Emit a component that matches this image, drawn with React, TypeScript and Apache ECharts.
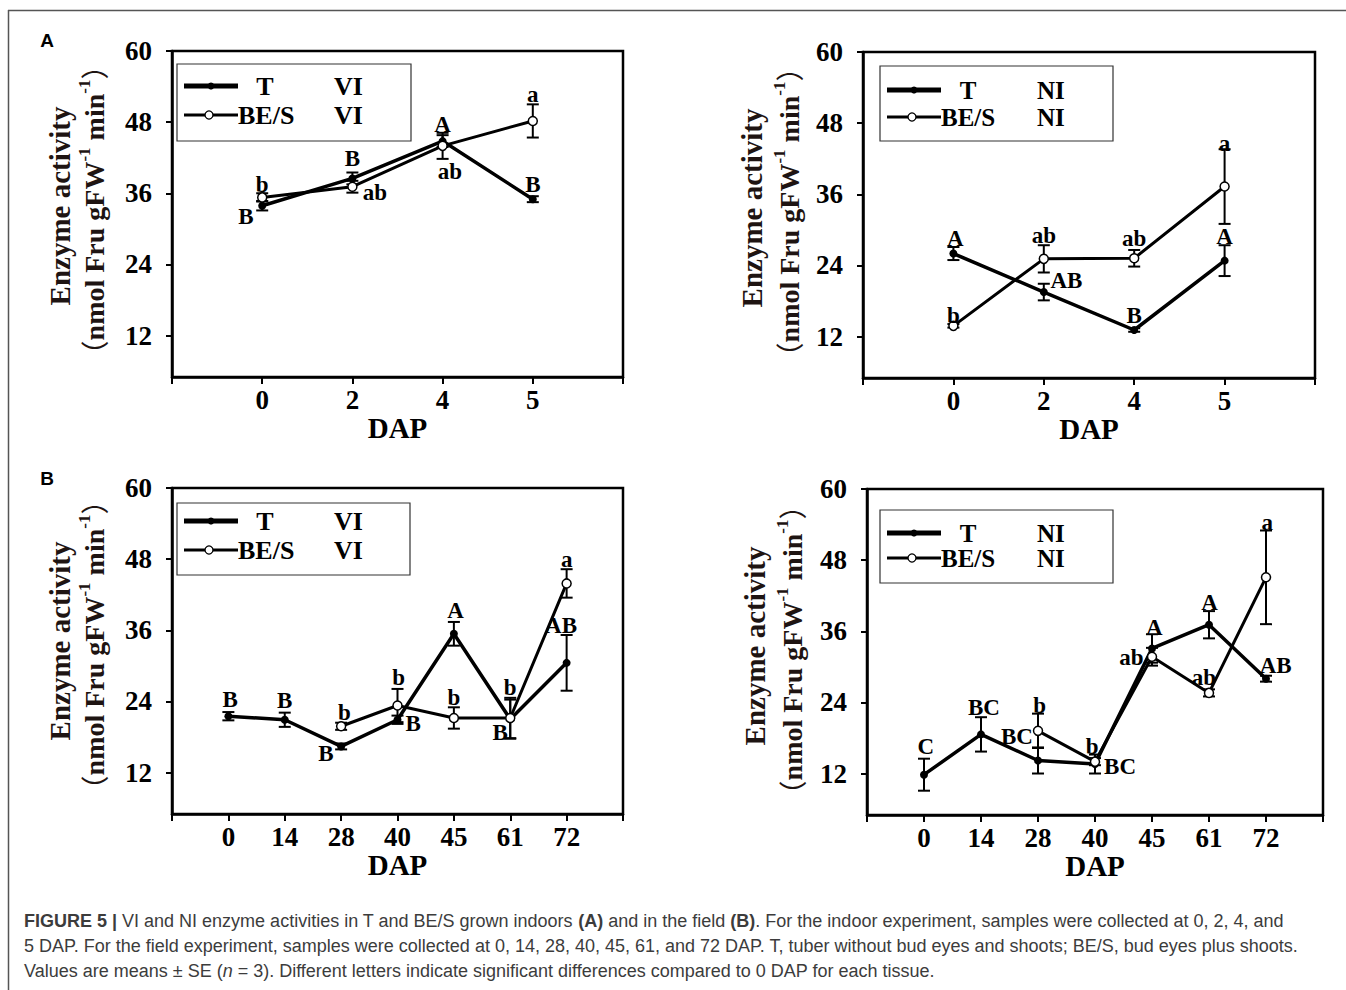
import React, { useEffect, useRef } from 'react';
import * as echarts from 'echarts';

// ---------- data ----------
const dapIndoor = ['0', '2', '4', '5'];
const dapField = ['0', '14', '28', '40', '45', '61', '72'];
const yTicks = [12, 24, 36, 48, 60];

// Panel A, VI (indoor)
const aviT = [33.9, 38.5, 44.8, 35.0];
const aviTErr = [0.8, 1.0, 1.0, 0.5];
const aviB = [35.3, 37.1, 44.0, 48.2];
const aviBErr = [0.7, 1.0, 2.2, 2.8];
const aviLetterPos = [[0, 37.4], [-0.18, 32.0], [1, 41.8], [1.25, 36.2], [2, 47.6], [2.08, 39.7], [3, 37.5], [3, 52.6]];
const aviLetterText = ['b', 'B', 'B', 'ab', 'A', 'ab', 'B', 'a'];

// Panel A, NI (indoor)
const aniT = [26.0, 19.5, 13.1, 24.8];
const aniTErr = [1.1, 1.4, 0.3, 2.6];
const aniB = [13.8, 25.1, 25.2, 37.3];
const aniBErr = [0.3, 2.3, 1.4, 6.3];
const aniLetterPos = [[0.02, 28.6], [0, 15.6], [1, 29.1], [1.25, 21.5], [2, 28.6], [2, 15.6], [3, 44.6], [3, 28.8]];
const aniLetterText = ['A', 'b', 'ab', 'AB', 'ab', 'B', 'a', 'A'];

// Panel B, VI (field)
const bviT = [21.5, 20.9, 16.4, 20.9, 35.4, 21.0, 30.5];
const bviTErr = [0.7, 1.2, 0.5, 0.7, 2.0, 3.3, 4.7];
const bviB = [null, null, 19.8, 23.3, 21.2, 21.2, 43.9];
const bviBErr = [null, null, 0.6, 2.8, 1.8, 3.4, 2.4];
const bviLetterPos = [[0.03, 24.3], [1, 24.2], [2.06, 22.2], [1.73, 15.2], [3.02, 28.1], [3.28, 20.2], [4.03, 39.3], [4, 24.7], [5, 26.4], [4.82, 18.8], [6, 48.0], [5.9, 36.8]];
const bviLetterText = ['B', 'B', 'b', 'B', 'b', 'B', 'A', 'b', 'b', 'B', 'a', 'AB'];

// Panel B, NI (field)
const bniT = [11.8, 18.6, 14.2, 13.6, 33.1, 37.1, 28.0];
const bniTErr = [2.7, 2.9, 2.2, 1.6, 2.4, 2.3, 0.5];
const bniB = [null, null, 19.2, 14.0, 31.7, 25.6, 45.1];
const bniBErr = [null, null, 2.9, 0.6, 1.5, 0.6, 7.9];
const bniLetterPos = [[0.03, 16.6], [1.05, 23.2], [1.63, 18.2], [2.03, 23.5], [2.95, 16.6], [3.44, 13.2], [4.04, 36.7], [3.64, 31.6], [5.01, 40.9], [4.91, 28.2], [6.02, 54.4], [6.17, 30.2]];
const bniLetterText = ['C', 'BC', 'BC', 'b', 'b', 'BC', 'A', 'ab', 'A', 'ab', 'a', 'AB'];

const SERIF = '"Liberation Serif", "Times New Roman", "DejaVu Serif", serif';
const SANS = '"Liberation Sans", Arial, Helvetica, sans-serif';

const panels = [
  { grid: { left: 172, top: 51, width: 451, height: 326 }, cats: dapIndoor, T: aviT, Te: aviTErr, B: aviB, Be: aviBErr, lp: aviLetterPos, lt: aviLetterText, kind: 'VI' },
  { grid: { left: 863, top: 52, width: 452, height: 326 }, cats: dapIndoor, T: aniT, Te: aniTErr, B: aniB, Be: aniBErr, lp: aniLetterPos, lt: aniLetterText, kind: 'NI' },
  { grid: { left: 172, top: 488, width: 451, height: 326 }, cats: dapField, T: bviT, Te: bviTErr, B: bviB, Be: bviBErr, lp: bviLetterPos, lt: bviLetterText, kind: 'VI' },
  { grid: { left: 867, top: 489, width: 456, height: 326 }, cats: dapField, T: bniT, Te: bniTErr, B: bniB, Be: bniBErr, lp: bniLetterPos, lt: bniLetterText, kind: 'NI' },
];

function pairs(vals: (number | null)[]) {
  const out: number[][] = [];
  vals.forEach((v, i) => { if (v != null) out.push([i, v]); });
  return out;
}
function errData(vals: (number | null)[], errs: (number | null)[]) {
  const out: number[][] = [];
  vals.forEach((v, i) => { if (v != null && errs[i] != null) out.push([i, v, errs[i] as number]); });
  return out;
}

function errSeries(p: number, vals: any[], errs: any[]) {
  return {
    type: 'custom', xAxisIndex: p, yAxisIndex: p, z: 2,
    data: errData(vals, errs),
    renderItem: (params: any, api: any) => {
      const x = api.value(0), v = api.value(1), e = api.value(2);
      const hi = api.coord([x, v + e]);
      const lo = api.coord([x, v - e]);
      const w = 6;
      const st = { stroke: '#000', lineWidth: 2 };
      return {
        type: 'group', children: [
          { type: 'line', shape: { x1: hi[0], y1: hi[1], x2: lo[0], y2: lo[1] }, style: st },
          { type: 'line', shape: { x1: hi[0] - w, y1: hi[1], x2: hi[0] + w, y2: hi[1] }, style: st },
          { type: 'line', shape: { x1: lo[0] - w, y1: lo[1], x2: lo[0] + w, y2: lo[1] }, style: st },
        ],
      };
    },
  };
}

function letterSeries(p: number, pos: number[][], txt: string[]) {
  return {
    type: 'custom', xAxisIndex: p, yAxisIndex: p, z: 6,
    data: pos,
    renderItem: (params: any, api: any) => {
      const c = api.coord([api.value(0), api.value(1)]);
      return {
        type: 'text', x: c[0], y: c[1],
        style: { text: txt[params.dataIndex], align: 'center', verticalAlign: 'middle', font: `bold 23px ${SERIF}`, fill: '#000' },
      };
    },
  };
}

function legendGraphic(x0: number, y0: number, w: number, h: number, r1: number, r2: number, kind: string, fs: number) {
  const lx1 = x0 + 7, lx2 = x0 + 61, mid = x0 + 34;
  const f = `bold ${fs}px ${SERIF}`;
  const lh = Math.min(fs, r2 - r1 - 1);
  const ts = (text: string, align: string) => ({ text, align, verticalAlign: 'middle', font: f, fill: '#000', lineHeight: lh });
  return [
    { type: 'rect', z: 10, shape: { x: x0, y: y0, width: w, height: h }, style: { fill: '#fff', stroke: '#333', lineWidth: 1.2 } },
    { type: 'line', z: 11, shape: { x1: lx1, y1: y0 + r1, x2: lx2, y2: y0 + r1 }, style: { stroke: '#000', lineWidth: 5 } },
    { type: 'circle', z: 12, shape: { cx: mid, cy: y0 + r1, r: 3.5 }, style: { fill: '#000' } },
    { type: 'line', z: 11, shape: { x1: lx1, y1: y0 + r2, x2: lx2, y2: y0 + r2 }, style: { stroke: '#000', lineWidth: 3 } },
    { type: 'circle', z: 12, shape: { cx: mid - 2, cy: y0 + r2, r: 4 }, style: { fill: '#fff', stroke: '#000', lineWidth: 1.3 } },
    { type: 'text', z: 12, x: x0 + 88, y: y0 + r1, style: ts('T', 'center') },
    { type: 'text', z: 12, x: x0 + 157, y: y0 + r1, style: ts(kind, 'left') },
    { type: 'text', z: 12, x: x0 + 61, y: y0 + r2, style: ts('BE/S', 'left') },
    { type: 'text', z: 12, x: x0 + 157, y: y0 + r2, style: ts(kind, 'left') },
  ];
}

function yTitle(x1: number, y1: number, x2: number, y2: number) {
  const col = '#1e1412';
  return [
    { type: 'text', x: x1, y: y1, rotation: Math.PI / 2,
      style: { text: 'Enzyme activity', align: 'center', verticalAlign: 'middle', font: `bold 29px ${SERIF}`, fill: col } },
    { type: 'text', x: x2, y: y2, rotation: Math.PI / 2,
      style: {
        text: '{p|（}{t|nmol Fru gFW}{s|-1}{t| min}{s|-1}{p|）}',
        align: 'center', verticalAlign: 'middle', fill: col,
        rich: {
          t: { font: `bold 28px ${SERIF}`, fill: col, lineHeight: 32, verticalAlign: 'bottom' },
          s: { font: `bold 17px ${SERIF}`, fill: col, lineHeight: 32, verticalAlign: 'top' },
          p: { font: `28px "Noto Sans CJK SC", ${SERIF}`, fill: col, lineHeight: 32, verticalAlign: 'bottom' },
        },
      } },
  ];
}

function buildOption() {
  const grid: any[] = [], xAxis: any[] = [], yAxis: any[] = [], series: any[] = [];
  panels.forEach((pn, p) => {
    grid.push({ ...pn.grid, show: true, borderColor: '#000', borderWidth: 2.5, backgroundColor: 'transparent', containLabel: false });
    const cats = pn.cats;
    xAxis.push({
      type: 'value', gridIndex: p, min: -1, max: cats.length, interval: 1,
      axisLine: { show: true, onZero: false, lineStyle: { color: '#000', width: 2.5 } },
      axisTick: { show: true, inside: false, length: 7, lineStyle: { color: '#000', width: 2 } },
      axisLabel: {
        formatter: (v: number) => (cats[v] !== undefined ? cats[v] : ''),
        fontFamily: SERIF, fontWeight: 'bold', fontSize: 27, color: '#000', margin: 9,
      },
      splitLine: { show: false },
      name: 'DAP', nameLocation: 'middle', nameGap: 36,
      nameTextStyle: { fontFamily: SERIF, fontWeight: 'bold', fontSize: 29, color: '#000', verticalAlign: 'top' },
    });
    yAxis.push({
      type: 'value', gridIndex: p, min: 5, max: 60,
      axisLine: { show: true, onZero: false, lineStyle: { color: '#000', width: 2.5 } },
      axisTick: { show: true, inside: false, length: 6, lineStyle: { color: '#000', width: 2 }, customValues: yTicks },
      axisLabel: { customValues: yTicks, fontFamily: SERIF, fontWeight: 'bold', fontSize: 27, color: '#000', margin: 20 },
      splitLine: { show: false },
    });
    series.push(errSeries(p, pn.T, pn.Te));
    series.push(errSeries(p, pn.B, pn.Be));
    series.push({
      type: 'line', name: 'T', xAxisIndex: p, yAxisIndex: p, z: 3, data: pairs(pn.T),
      symbol: 'circle', symbolSize: 8, showSymbol: true,
      lineStyle: { color: '#000', width: 3.5 }, itemStyle: { color: '#000' },
    });
    series.push({
      type: 'line', name: 'BE/S', xAxisIndex: p, yAxisIndex: p, z: 4, data: pairs(pn.B),
      symbol: 'circle', symbolSize: 9, showSymbol: true,
      lineStyle: { color: '#000', width: 3 }, itemStyle: { color: '#fff', borderColor: '#000', borderWidth: 1.5 },
    });
    series.push(letterSeries(p, pn.lp, pn.lt));
  });

  const capFont = `18px ${SANS}`;
  const capCol = '#3c3c3c';
  const capRich = {
    b: { font: `bold 18px ${SANS}`, fill: capCol },
    i: { font: `italic 18px ${SANS}`, fill: capCol },
  };

  const graphic: any[] = [
    { type: 'line', shape: { x1: 8, y1: 10.5, x2: 1346, y2: 10.5 }, style: { stroke: '#555', lineWidth: 1.5 } },
    { type: 'line', shape: { x1: 8.5, y1: 10, x2: 8.5, y2: 990 }, style: { stroke: '#555', lineWidth: 1.5 } },
    { type: 'text', x: 47, y: 40, style: { text: 'A', align: 'center', verticalAlign: 'middle', font: `bold 19px ${SANS}`, fill: '#000' } },
    { type: 'text', x: 47, y: 478, style: { text: 'B', align: 'center', verticalAlign: 'middle', font: `bold 19px ${SANS}`, fill: '#000' } },
    ...yTitle(60, 206, 92, 210),
    ...yTitle(752, 208, 787, 212),
    ...yTitle(60, 641, 92, 645),
    ...yTitle(755, 646, 790, 650),
    ...legendGraphic(177, 64, 234, 77, 22, 51, 'VI', 26),
    ...legendGraphic(880, 66, 233, 75, 24, 51, 'NI', 25),
    ...legendGraphic(177, 503, 233, 72, 18, 47, 'VI', 26),
    ...legendGraphic(880, 510, 233, 73, 23, 48, 'NI', 25),
    { type: 'text', x: 24, y: 921, style: { text: '{b|FIGURE 5 |} VI and NI enzyme activities in T and BE/S grown indoors {b|(A)} and in the field {b|(B)}. For the indoor experiment, samples were collected at 0, 2, 4, and', verticalAlign: 'middle', font: capFont, fill: capCol, rich: capRich } },
    { type: 'text', x: 24, y: 946, style: { text: '5 DAP. For the field experiment, samples were collected at 0, 14, 28, 40, 45, 61, and 72 DAP. T, tuber without bud eyes and shoots; BE/S, bud eyes plus shoots.', verticalAlign: 'middle', font: capFont, fill: capCol } },
    { type: 'text', x: 24, y: 971, style: { text: 'Values are means ± SE ({i|n} = 3). Different letters indicate significant differences compared to 0 DAP for each tissue.', verticalAlign: 'middle', font: capFont, fill: capCol, rich: capRich } },
  ];

  return { animation: false, backgroundColor: '#fff', grid, xAxis, yAxis, series, graphic };
}

export default function App() {
  const ref = useRef<HTMLDivElement>(null);
  useEffect(() => {
    const chart = echarts.init(ref.current as HTMLDivElement, null, { renderer: 'svg' });
    chart.setOption(buildOption() as any);
    return () => chart.dispose();
  }, []);
  return <div ref={ref} style={{ position: 'absolute', left: 0, top: 0, width: 1346, height: 990, background: '#fff' }} />;
}
